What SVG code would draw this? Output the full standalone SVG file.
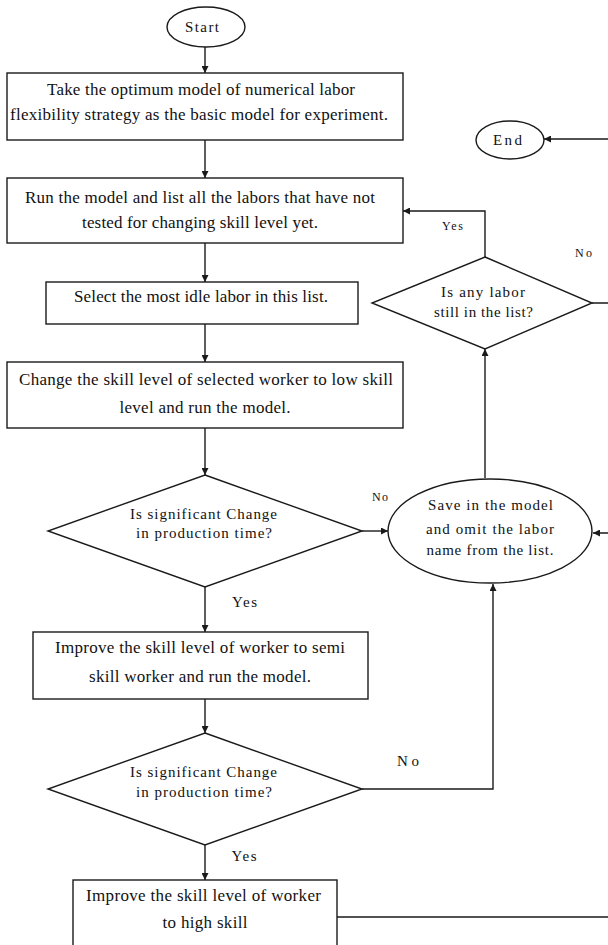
<svg xmlns="http://www.w3.org/2000/svg" width="608" height="945" viewBox="0 0 608 945">
<style>
.n{fill:#fff;stroke:#1a1a1a;stroke-width:1.4}
.t{fill:#111;text-anchor:middle;font-family:'Liberation Serif','Times New Roman',serif}
.b{font-size:17px}
.d{font-size:15px}
.s{font-size:12px}
.c{fill:none;stroke:#1a1a1a;stroke-width:1.4}
</style>
<defs>
<marker id="ah" viewBox="0 0 10 10" refX="10" refY="5" markerWidth="7" markerHeight="7" orient="auto" markerUnits="userSpaceOnUse">
<path d="M0,0 L10,5 L0,10 z" fill="#1a1a1a"/>
</marker>
</defs>
<rect width="608" height="945" fill="#fff"/>
<g id="connectors">
<line class="c" x1="205" y1="47" x2="205" y2="73" marker-end="url(#ah)"/>
<line class="c" x1="205" y1="140" x2="205" y2="178" marker-end="url(#ah)"/>
<line class="c" x1="205" y1="243" x2="205" y2="282" marker-end="url(#ah)"/>
<line class="c" x1="205" y1="324" x2="205" y2="362" marker-end="url(#ah)"/>
<line class="c" x1="205" y1="428" x2="205" y2="475" marker-end="url(#ah)"/>
<line class="c" x1="362" y1="531" x2="388" y2="531" marker-end="url(#ah)"/>
<line class="c" x1="205" y1="587" x2="205" y2="632" marker-end="url(#ah)"/>
<line class="c" x1="205" y1="699" x2="205" y2="733" marker-end="url(#ah)"/>
<polyline class="c" points="362,789 493,789 493,584" marker-end="url(#ah)"/>
<line class="c" x1="205" y1="845" x2="205" y2="880" marker-end="url(#ah)"/>
<polyline class="c" points="337,917 610,917 610,533 593,533" marker-end="url(#ah)"/>
<line class="c" x1="485" y1="478" x2="485" y2="349" marker-end="url(#ah)"/>
<polyline class="c" points="485,257 485,211 403,211" marker-end="url(#ah)"/>
<polyline class="c" points="592,303 610,303 610,139 544,139" marker-end="url(#ah)"/>
<text class="t s" x="380" y="501" textLength="16">No</text>
<text class="t d" x="244.5" y="607" textLength="25">Yes</text>
<text class="t d" x="408" y="766" textLength="22">No</text>
<text class="t d" x="244" y="861" textLength="25">Yes</text>
<text class="t s" x="452.5" y="230" textLength="21">Yes</text>
<text class="t s" x="583.5" y="257" textLength="17">No</text>
</g>
<g id="start">
<ellipse class="n" cx="206" cy="27" rx="39" ry="20"/>
<text class="t d" x="202" y="32" textLength="34">Start</text>
</g>
<g id="box1">
<rect class="n" x="7" y="73" width="396" height="67"/>
<text class="t b" x="201" y="95" textLength="308">Take the optimum model of numerical labor</text>
<text class="t b" x="199" y="120" textLength="378">flexibility strategy as the basic model for experiment.</text>
</g>
<g id="box2">
<rect class="n" x="7" y="178" width="396" height="65"/>
<text class="t b" x="200" y="203" textLength="350">Run the model and list all the labors that have not</text>
<text class="t b" x="200" y="228" textLength="236">tested for changing skill level yet.</text>
</g>
<g id="select">
<rect class="n" x="46" y="282" width="312" height="42"/>
<text class="t b" x="201" y="302" textLength="254">Select the most idle labor in this list.</text>
</g>
<g id="change">
<rect class="n" x="7" y="362" width="396" height="66"/>
<text class="t b" x="206" y="385" textLength="374">Change the skill level of selected worker to low skill</text>
<text class="t b" x="205" y="413" textLength="171">level and run the model.</text>
</g>
<g id="decision1">
<polygon class="n" points="205,475 362,531 205,587 48,531"/>
<text class="t d" x="203.5" y="519" textLength="147">Is significant Change</text>
<text class="t d" x="204" y="538" textLength="136">in production time?</text>
</g>
<g id="semi">
<rect class="n" x="33" y="632" width="335" height="67"/>
<text class="t b" x="200" y="653" textLength="290">Improve the skill level of worker to semi</text>
<text class="t b" x="200" y="682" textLength="222">skill worker and run the model.</text>
</g>
<g id="decision2">
<polygon class="n" points="205,733 362,789 205,845 48,789"/>
<text class="t d" x="203.5" y="777" textLength="147">Is significant Change</text>
<text class="t d" x="204" y="797" textLength="136">in production time?</text>
</g>
<g id="high">
<rect class="n" x="73" y="880" width="264" height="70"/>
<text class="t b" x="203.5" y="901" textLength="235">Improve the skill level of worker</text>
<text class="t b" x="205" y="928" textLength="85">to high skill</text>
</g>
<g id="save">
<ellipse class="n" cx="490" cy="531" rx="102" ry="52"/>
<text class="t d" x="490.5" y="510" textLength="125">Save in the model</text>
<text class="t d" x="490" y="534" textLength="128">and omit the labor</text>
<text class="t d" x="490" y="555" textLength="127">name from the list.</text>
</g>
<g id="decision3">
<polygon class="n" points="485,257 592,303 485,349 372,303"/>
<text class="t d" x="483" y="297" textLength="84">Is any labor</text>
<text class="t d" x="483.5" y="317" textLength="99">still in the list?</text>
</g>
<g id="end">
<ellipse class="n" cx="510" cy="140" rx="34" ry="19"/>
<text class="t d" x="507.5" y="145" textLength="29">End</text>
</g>
</svg>
